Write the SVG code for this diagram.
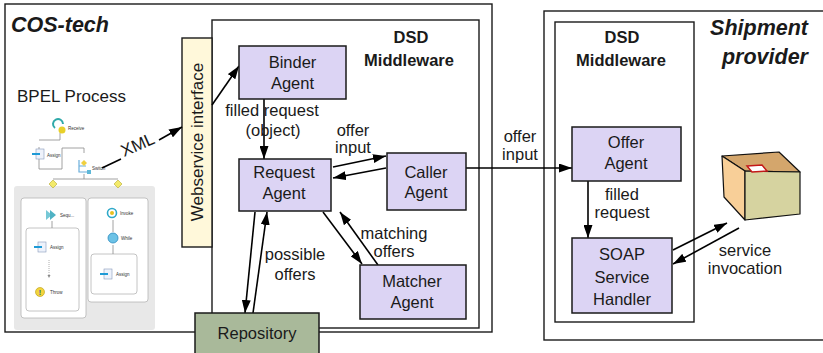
<svg xmlns="http://www.w3.org/2000/svg" width="823" height="353" viewBox="0 0 823 353">
  <defs>
    <marker id="ah" viewBox="0 0 13 9" refX="13" refY="4.5" markerWidth="13" markerHeight="9" markerUnits="userSpaceOnUse" orient="auto">
      <path d="M0,0 L13,4.5 L0,9 z" fill="#000"/>
    </marker>
    <style>
      .frame { fill: #fff; stroke: #1a1a1a; stroke-width: 1.4; }
      .agent { fill: #dcd4f4; stroke: #1a1a1a; stroke-width: 1.5; }
      .repo { fill: #a9b99a; stroke: #1a1a1a; stroke-width: 1.5; }
      .ws { fill: #fff8da; stroke: #1a1a1a; stroke-width: 1.4; }
      .lbl { font-family: "Liberation Sans", Arial, sans-serif; font-size: 16.5px; fill: #1a1a1a; text-anchor: middle; }
      .hdr { font-family: "Liberation Sans", Arial, sans-serif; font-size: 16.5px; font-weight: bold; fill: #1a1a1a; text-anchor: middle; }
      .title { font-family: "Liberation Sans", Arial, sans-serif; font-size: 21.5px; font-weight: bold; font-style: italic; fill: #1a1a1a; }
      .conn { fill: none; stroke: #000; stroke-width: 1.6; }
      .arr { fill: none; stroke: #000; stroke-width: 1.6; marker-end: url(#ah); }
      .bp { fill: none; stroke: #8a8a8a; stroke-width: 0.8; }
      .panel { fill: #fff; stroke: #b5b5b5; stroke-width: 0.8; }
      .tiny { font-family: "Liberation Sans", Arial, sans-serif; font-size: 4.5px; fill: #333; }
      .pkg { stroke: #111; stroke-width: 1.2; stroke-linejoin: round; }
    </style>
  </defs>

  <!-- COS-tech domain -->
  <g id="cos-tech">
    <rect class="frame" x="5" y="4" width="487" height="328"/>
    <text class="title" x="11" y="32">COS-tech</text>
  </g>

  <!-- Middleware inside COS-tech -->
  <g id="dsd-middleware-left">
    <rect class="frame" x="212" y="20" width="267" height="308"/>
    <text class="hdr" x="411" y="43">DSD</text>
    <text class="hdr" x="409" y="66">Middleware</text>
  </g>

  <!-- Shipment provider domain (extends past the right edge) -->
  <g id="shipment-provider">
    <rect class="frame" x="544" y="11" width="290" height="329"/>
    <text class="title" x="808" y="35" text-anchor="end">Shipment</text>
    <text class="title" x="808" y="64" text-anchor="end">provider</text>
  </g>

  <g id="dsd-middleware-right">
    <rect class="frame" x="555" y="22" width="139" height="300"/>
    <text class="hdr" x="622" y="43">DSD</text>
    <text class="hdr" x="621" y="66">Middleware</text>
  </g>

  <!-- BPEL process sketch -->
  <g id="bpel-process">
    <text class="lbl" x="17" y="102" style="text-anchor:start;font-size:17px">BPEL Process</text>
    <!-- top flow -->
    <path class="bp" d="M60,133 V140 M39,147 V169 H62 V148 H84 V153 M84,174 V179 M53,179 H118 M53,188 V198 M118,188 V198"/>
    <path class="bp" d="M39,140 H60"/>
    <rect x="14" y="186" width="141" height="144" rx="3" fill="#e8e8e8"/>
    <rect class="panel" x="21" y="198" width="65" height="120" rx="3"/>
    <rect class="panel" x="88" y="198" width="60" height="104" rx="3"/>
    <rect class="panel" x="26" y="228" width="53" height="83" rx="3"/>
    <rect class="panel" x="91" y="254" width="46" height="40" rx="3"/>
    <path class="bp" d="M52,221 V228 M113,220 V232 M113,245 V254"/>
    <path d="M49,260 V276" stroke="#999" stroke-width="0.8" stroke-dasharray="1,1"/>
    <path d="M47.5,275 L49,278 L50.5,275 z" fill="#888"/>
    <!-- junction diamonds -->
    <path d="M53,180 L57,184 L53,188 L49,184 z" fill="#f3ea6a" stroke="#b5a830" stroke-width="0.6"/>
    <path d="M118,180 L122,184 L118,188 L114,184 z" fill="#f3ea6a" stroke="#b5a830" stroke-width="0.6"/>
    <!-- receive -->
    <path d="M55,128 A5,5 0 1 1 63,124" fill="none" stroke="#2fa9a9" stroke-width="2"/>
    <circle cx="62" cy="130" r="3.5" fill="#e8d02a"/>
    <text class="tiny" x="68" y="130">Receive</text>
    <!-- assign (top) -->
    <rect x="36" y="149" width="8" height="10" fill="#eef2fb" stroke="#8899bb" stroke-width="0.6"/>
    <path d="M32,154 H40" stroke="#1e9ad6" stroke-width="2"/>
    <text class="tiny" x="47" y="157">Assign</text>
    <!-- switch -->
    <path d="M79,160 V172 H89 M79,166 H86" fill="none" stroke="#6aaedb" stroke-width="1.2"/>
    <path d="M84,160 L87,163 L84,166 L81,163 z" fill="#f0d040"/>
    <rect x="87" y="170" width="4" height="4" fill="#5fb8d8"/>
    <text class="tiny" x="92" y="170">Switch</text>
    <!-- sequence -->
    <path d="M46,210 L52,215 L46,220 z" fill="#76c8d6"/>
    <path d="M50,210 L56,215 L50,220 z" fill="#4fb2c4"/>
    <text class="tiny" x="60" y="217">Sequ...</text>
    <!-- assign (left) -->
    <rect x="38" y="242" width="8" height="10" fill="#eef2fb" stroke="#8899bb" stroke-width="0.6"/>
    <path d="M34,247 H42" stroke="#1e9ad6" stroke-width="2"/>
    <text class="tiny" x="50" y="249">Assign</text>
    <!-- throw -->
    <circle cx="40" cy="292" r="4.5" fill="#f2d43c" stroke="#b99a10" stroke-width="0.6"/>
    <text x="40" y="295" font-family="Liberation Sans, Arial, sans-serif" font-size="7" font-weight="bold" fill="#1e5aa0" text-anchor="middle">!</text>
    <text class="tiny" x="50" y="294">Throw</text>
    <!-- invoke -->
    <circle cx="112" cy="213" r="4.5" fill="none" stroke="#2fa9c9" stroke-width="1.6"/>
    <circle cx="112" cy="213" r="2" fill="#e8c020"/>
    <text class="tiny" x="120" y="215">Invoke</text>
    <!-- while -->
    <circle cx="113" cy="238" r="5" fill="#6cc2e6" stroke="#2a8cc0" stroke-width="0.8"/>
    <text class="tiny" x="121" y="240">While</text>
    <!-- assign (right) -->
    <rect x="104" y="269" width="8" height="10" fill="#eef2fb" stroke="#8899bb" stroke-width="0.6"/>
    <path d="M100,274 H108" stroke="#1e9ad6" stroke-width="2"/>
    <text class="tiny" x="116" y="276">Assign</text>
  </g>

  <!-- Webservice interface -->
  <g id="webservice-interface">
    <rect class="ws" x="182" y="38" width="30" height="209"/>
    <text class="lbl" transform="translate(203,142) rotate(-90)" style="font-size:17px">Webservice interface</text>
  </g>

  <!-- Connectors -->
  <g id="connectors">
    <!-- XML into the webservice interface -->
    <path class="conn" d="M102,168 L121,159"/>
    <path class="arr" d="M159,140 L182,127"/>
    <text class="lbl" transform="translate(140,150) rotate(-24)" style="font-size:17px">XML</text>
    <!-- interface to binder -->
    <path class="arr" d="M212,105 L239,66"/>
    <!-- binder to request -->
    <path class="arr" d="M264,99 L264,159"/>
    <text class="lbl" x="272" y="116">filled request</text>
    <text class="lbl" x="273" y="136">(object)</text>
    <!-- request <-> caller -->
    <path class="arr" d="M333,167 L386,156"/>
    <path class="arr" d="M386,168 L333,178"/>
    <text class="lbl" x="353" y="136">offer</text>
    <text class="lbl" x="353" y="153">input</text>
    <!-- caller to offer agent -->
    <path class="arr" d="M466,168 L572,168"/>
    <text class="lbl" x="520" y="142">offer</text>
    <text class="lbl" x="520" y="160">input</text>
    <!-- request <-> matcher -->
    <path class="arr" d="M323,212 L362,264"/>
    <path class="arr" d="M378,265 L340,212"/>
    <text class="lbl" x="394" y="239">matching</text>
    <text class="lbl" x="394" y="257">offers</text>
    <!-- request <-> repository -->
    <path class="arr" d="M255,212 L245,313"/>
    <path class="arr" d="M253,313 L267,212"/>
    <text class="lbl" x="295" y="260">possible</text>
    <text class="lbl" x="295" y="280">offers</text>
    <!-- offer agent to SOAP handler -->
    <path class="arr" d="M588,181 L588,238"/>
    <text class="lbl" x="622" y="200">filled</text>
    <text class="lbl" x="622" y="218">request</text>
    <!-- SOAP handler <-> shipment service -->
    <path class="arr" d="M673,250 L727,223"/>
    <path class="arr" d="M739,228 L673,264"/>
    <text class="lbl" x="745" y="256">service</text>
    <text class="lbl" x="745" y="274">invocation</text>
  </g>

  <!-- Agents -->
  <g id="binder-agent">
    <rect class="agent" x="239" y="46" width="107" height="53"/>
    <text class="lbl" x="292.5" y="68">Binder</text>
    <text class="lbl" x="292.5" y="89">Agent</text>
  </g>
  <g id="request-agent">
    <rect class="agent" x="239" y="159" width="92" height="52"/>
    <text class="lbl" x="284" y="178">Request</text>
    <text class="lbl" x="284" y="199">Agent</text>
  </g>
  <g id="caller-agent">
    <rect class="agent" x="387" y="153" width="79" height="57"/>
    <text class="lbl" x="426" y="178">Caller</text>
    <text class="lbl" x="426" y="198">Agent</text>
  </g>
  <g id="matcher-agent">
    <rect class="agent" x="360" y="265" width="106" height="54"/>
    <text class="lbl" x="412" y="287">Matcher</text>
    <text class="lbl" x="412" y="308">Agent</text>
  </g>
  <g id="repository">
    <rect class="repo" x="195" y="313" width="124" height="42"/>
    <text class="lbl" x="257" y="339">Repository</text>
  </g>
  <g id="offer-agent">
    <rect class="agent" x="572" y="127" width="109" height="54"/>
    <text class="lbl" x="626" y="148">Offer</text>
    <text class="lbl" x="626" y="169">Agent</text>
  </g>
  <g id="soap-service-handler">
    <rect class="agent" x="572" y="238" width="100" height="75"/>
    <text class="lbl" x="622" y="260">SOAP</text>
    <text class="lbl" x="622" y="283">Service</text>
    <text class="lbl" x="622" y="305">Handler</text>
  </g>

  <!-- Shipment package -->
  <g id="package">
    <path class="pkg" d="M722,156 L779,152 L800,172 L745,171 z" fill="#d4a66c"/>
    <path class="pkg" d="M722,156 L745,171 L745,220 L724,197 z" fill="#f8cf98"/>
    <path class="pkg" d="M745,171 L800,172 L800,214 L745,220 z" fill="#d6d3a0"/>
    <path d="M747,166 L762,165 L767,171 L752,172 z" fill="#fff" stroke="#c41818" stroke-width="1.5"/>
  </g>
</svg>
